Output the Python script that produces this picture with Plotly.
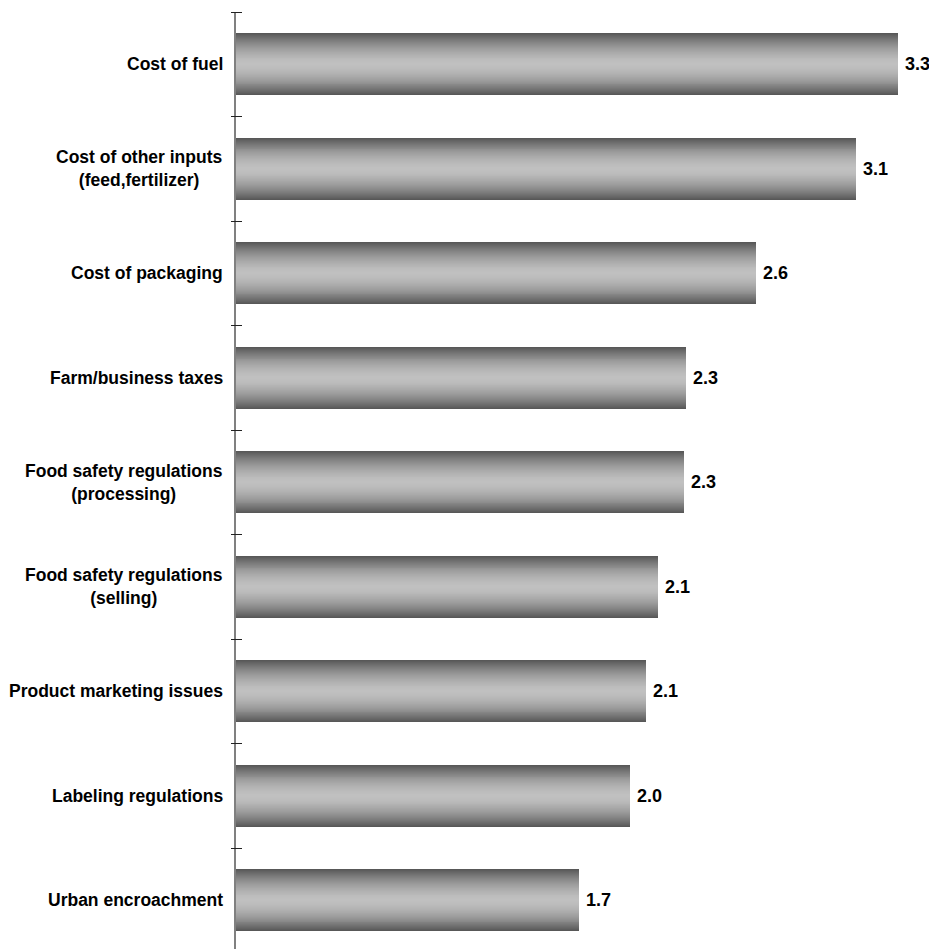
import plotly.graph_objects as go

categories = [
    "Cost of fuel",
    "Cost of other inputs<br>(feed,fertilizer)",
    "Cost of packaging",
    "Farm/business taxes",
    "Food safety regulations<br>(processing)",
    "Food safety regulations<br>(selling)",
    "Product marketing issues",
    "Labeling regulations",
    "Urban encroachment",
]
values = [3.30, 3.09, 2.59, 2.245, 2.235, 2.105, 2.045, 1.965, 1.71]
value_labels = ["3.3", "3.1", "2.6", "2.3", "2.3", "2.1", "2.1", "2.0", "1.7"]

cat_ids = [f"c{i}" for i in range(len(categories))]

FONT = "Liberation Sans, Arial, sans-serif"
fig = go.Figure()

# gradient bars: overlaid bars of decreasing width, dark edges -> light centre
N = 32
W = 0.59
dark = (88, 88, 88)
light = (192, 192, 192)
for k in range(N):
    t = 1 - k / N  # distance fraction from centre (1 = edge)
    f = t ** 1.7
    c = tuple(int(round(light[j] - (light[j] - dark[j]) * f)) for j in range(3))
    fig.add_trace(go.Bar(
        x=values, y=cat_ids, orientation="h",
        width=W * t,
        marker=dict(color=f"rgb{c}", line=dict(width=0)),
        hoverinfo="skip", showlegend=False,
    ))

# invisible helper trace so the tick-only axis is drawn
fig.add_trace(go.Scatter(x=values, y=cat_ids, xaxis="x", yaxis="y2", mode="markers",
                         marker=dict(opacity=0), hoverinfo="skip", showlegend=False))

# value labels
for cid, v, lab in zip(cat_ids, values, value_labels):
    fig.add_annotation(x=v, y=cid, xref="x", yref="y", text=f"<b>{lab}</b>",
                       showarrow=False, xanchor="left", xshift=5,
                       font=dict(family=FONT, size=18, color="black"))

# category labels
for cid, cat in zip(cat_ids, categories):
    fig.add_annotation(x=0, y=cid, xref="paper", yref="y", text=f"<b>{cat}</b>",
                       showarrow=False, xanchor="right", align="center", xshift=-11,
                       font=dict(family=FONT, size=17.5, color="black"))

plot_w = 701
yrange = [8.466, -0.5]
fig.update_layout(
    width=929, height=941,
    margin=dict(l=228, r=0, t=4, b=0),
    paper_bgcolor="white", plot_bgcolor="white",
    barmode="overlay", bargap=0,
    xaxis=dict(range=[0, plot_w / 200.6], visible=False, fixedrange=True,
               domain=[0, 1]),
    yaxis=dict(type="category", categoryorder="array", categoryarray=cat_ids,
               range=yrange, showticklabels=False, showgrid=False, zeroline=False,
               showline=True, linecolor="#808080", linewidth=2, ticks=""),
    yaxis2=dict(type="category", categoryorder="array", categoryarray=cat_ids,
                range=yrange, overlaying="y", anchor="free", position=5.5 / plot_w,
                side="left", showticklabels=False, showgrid=False, zeroline=False,
                showline=False, ticks="outside", ticklen=11, tickwidth=1,
                tickcolor="#222222", tickson="boundaries"),
)

fig.write_html("out.html")
